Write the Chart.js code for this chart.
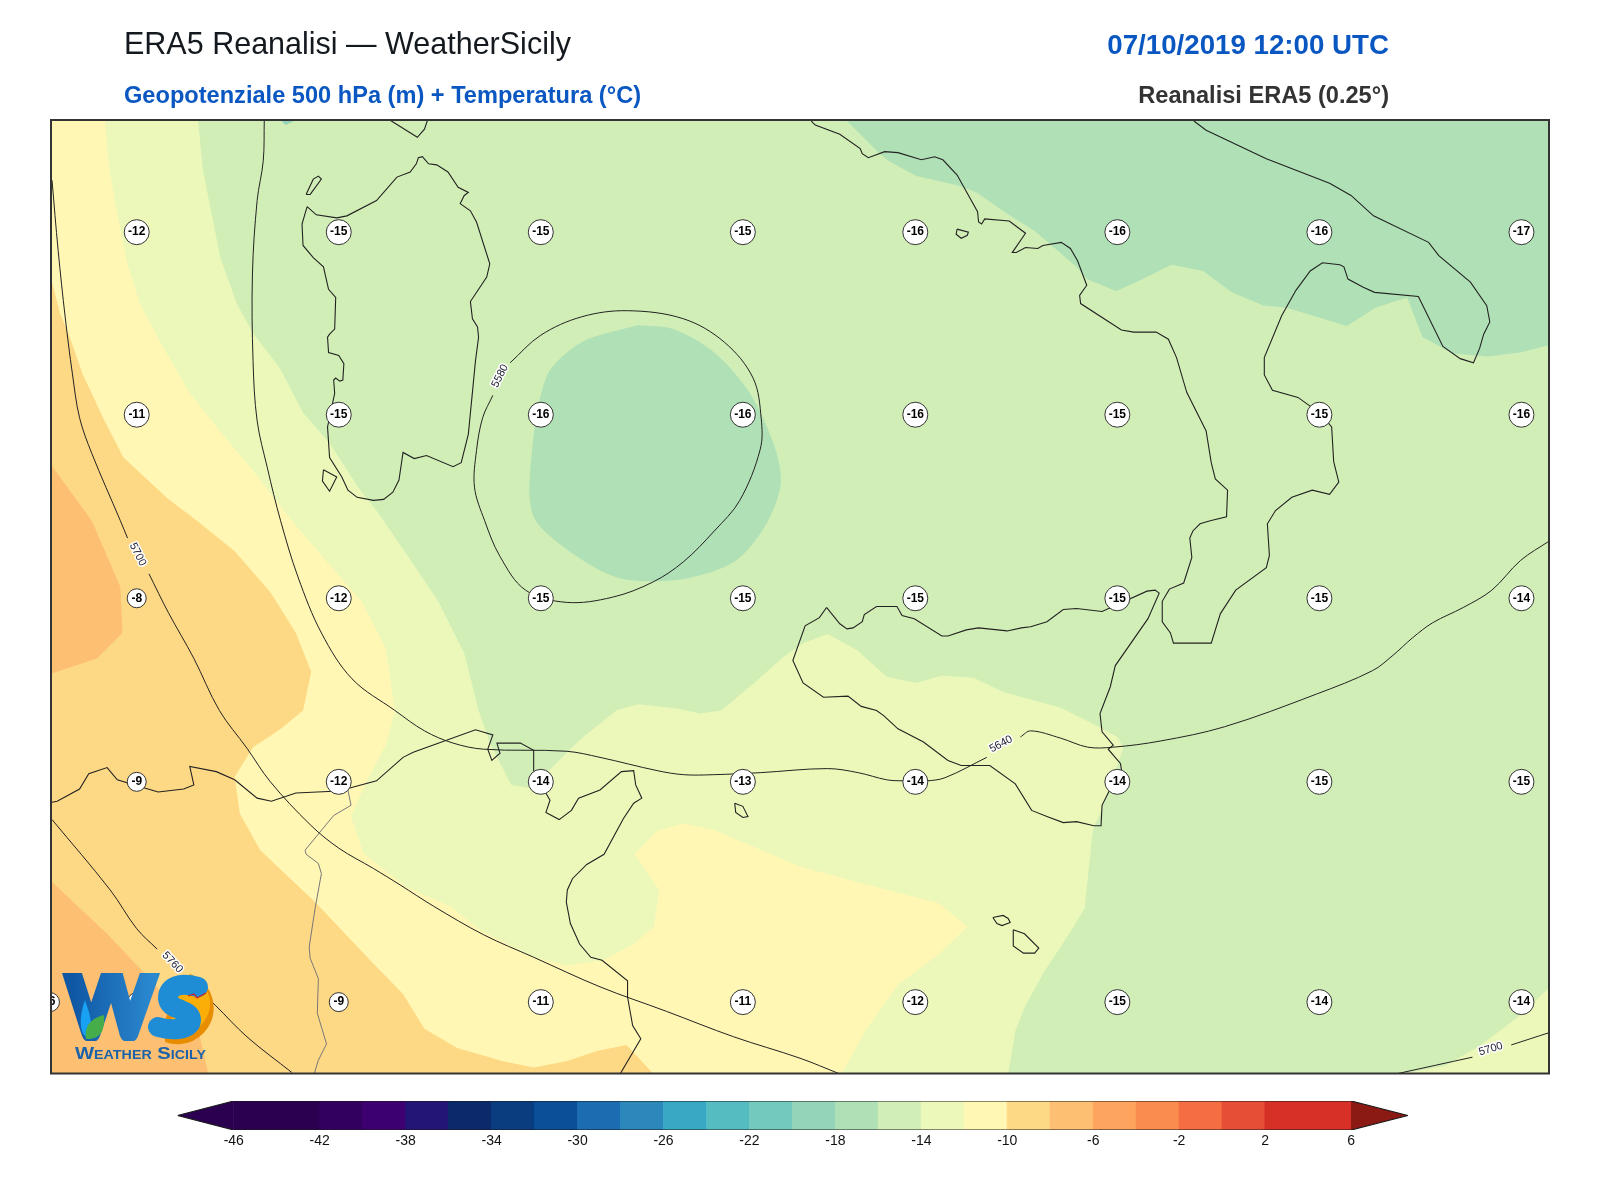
<!DOCTYPE html>
<html>
<head>
<meta charset="utf-8">
<title>ERA5 Reanalisi - WeatherSicily</title>
<script src="https://cdn.jsdelivr.net/npm/chart.js@4"></script>
<style>
  html, body { margin: 0; background: #fff; }
  #page { position: relative; width: 1600px; height: 1200px; overflow: hidden; font-family: "Liberation Sans", Arial, sans-serif; }
  #page canvas { position: absolute; left: 0; }
  .head { position: absolute; white-space: nowrap; line-height: 1; }
  #logo { position: absolute; left: 0; top: 0; }
</style>
</head>
<body>
<div id="page">
  <canvas id="map" width="1600" height="1090" style="top:0"></canvas>
  <canvas id="bar" width="1600" height="70" style="top:1090px"></canvas>
  <div class="head" style="left:124px;top:28px;font-size:30.5px;color:#14191f">ERA5 Reanalisi — WeatherSicily</div>
  <div class="head" style="right:211px;top:31px;font-size:27.7px;font-weight:bold;color:#0a57c2">07/10/2019 12:00 UTC</div>
  <div class="head" style="left:124px;top:84px;font-size:23.6px;font-weight:bold;color:#0a57c2">Geopotenziale 500 hPa (m) + Temperatura (°C)</div>
  <div class="head" style="right:211px;top:84px;font-size:23.6px;font-weight:bold;color:#333">Reanalisi ERA5 (0.25°)</div>
  <svg id="logo" width="1600" height="1200">
    <defs>
      <linearGradient id="wGrad" x1="0" y1="0" x2="1" y2="0">
        <stop offset="0" stop-color="#0f56a3"/><stop offset="1" stop-color="#2a88cf"/>
      </linearGradient>
      <clipPath id="wClip"><rect x="60" y="973" width="102" height="68"/></clipPath>
    </defs>
    <path d="M190,974 A35,35 0 0 1 165,1042 L165,1020 L180,985 Z" fill="#e88c00"/>
    <path d="M172,1000 L194,978 C206,986 211,996 210,1006 C208,1024 192,1037 172,1039 Z" fill="#fcae08"/>
    <g clip-path="url(#wClip)">
      <path d="M71,970 L91,1033 L112,970 L129,1033 L151,970" fill="none" stroke="url(#wGrad)" stroke-width="19" stroke-linejoin="round" stroke-linecap="butt"/>
    </g>
    <path d="M85,1000 C90,1015 94,1025 88,1038 C80,1035 78,1020 85,1000 Z" fill="#18a0f2"/>
    <path d="M86,1039 C84,1025 92,1018 104,1015 C105,1028 102,1040 86,1039 Z" fill="#46ad4a"/>
    <path d="M198,987 C180,982 168,986 168,998 C168,1011 191,1008 191,1020 C191,1030 172,1031 158,1027" fill="none" stroke="#1f8dd6" stroke-width="20" stroke-linecap="round"/>
    <path d="M188,996 L194,994 L197,998 L206,993" fill="none" stroke="#c8202a" stroke-width="1.3"/>
    <text x="75" y="1059" textLength="131" lengthAdjust="spacingAndGlyphs" font-family="Liberation Sans" font-weight="bold" font-size="17" style="font-variant:small-caps" fill="#1a63aa">Weather Sicily</text>
  </svg>
</div>
<script>
// map grid: x runs 50..1518, y runs 117..1052 going south
const mapLimits = { xMin: 50, xMax: 1518, yMin: 117, yMax: 1052 };

// filled temperature bands
const frameBand = [[50,117],[1518,117],[1518,1052],[50,1052]];
const paleBand = [[194,117],[199,167],[216,252],[232,297],[248,326],[274,360],[297,404],[323,434],[353,480],[369,500],[400,545],[430,590],[455,640],[469,696],[480,728],[501,769],[520,772],[542,751],[568,725],[604,696],[625,690],[663,694],[686,699],[707,696],[745,664],[767,644],[787,630],[811,621],[840,637],[869,663],[897,669],[923,662],[954,664],[983,678],[1039,693],[1071,709],[1095,722],[1101,732],[1091,761],[1078,797],[1071,813],[1067,850],[1063,890],[1049,913],[1024,951],[1005,985],[995,1010],[988,1052],[50,1052],[50,117]];
const paleCorner = [[1375,1052],[1415,1045],[1450,1025],[1490,995],[1518,968],[1518,1052]];
const creamBand = [[103,117],[106,157],[113,199],[124,255],[137,297],[160,340],[186,385],[213,419],[248,461],[286,510],[320,550],[355,590],[378,635],[387,696],[379,728],[358,768],[344,800],[356,836],[398,869],[441,888],[470,911],[523,938],[555,946],[591,941],[621,925],[641,908],[646,872],[622,837],[644,814],[670,807],[699,813],[784,849],[850,867],[920,885],[948,908],[920,935],[880,965],[848,1010],[825,1052],[50,1052],[50,117]];
const yellowBand = [[51,276],[59,307],[67,326],[81,366],[101,409],[121,448],[164,488],[193,510],[230,540],[265,580],[290,620],[305,658],[297,696],[274,715],[248,732],[230,761],[235,797],[255,833],[310,885],[359,937],[395,974],[416,1008],[448,1027],[493,1040],[523,1046],[555,1040],[585,1030],[614,1024],[640,1052],[50,1052],[50,276]];
const orangeWest = [[50,455],[90,510],[118,575],[120,620],[95,645],[50,660]];
const orangeSouth = [[51,864],[72,884],[105,915],[139,951],[170,985],[196,1016],[204,1052],[50,1052]];
const coldNorth = [[830,118],[861,149],[872,158],[898,172],[938,181],[957,188],[987,209],[1013,225],[1055,261],[1065,273],[1094,285],[1120,273],[1148,259],[1179,265],[1207,286],[1238,299],[1261,301],[1320,319],[1348,301],[1379,291],[1394,330],[1424,346],[1457,349],[1490,345],[1518,338],[1518,117],[830,117]];
const coldLow = [[625,318],[660,322],[700,345],[735,385],[760,440],[765,475],[750,515],[720,550],[670,567],[610,567],[570,548],[525,510],[519,470],[535,370],[570,335],[625,318]];
const coldSpeck = [[275,117],[280,122],[288,118]];

// coastlines
const sardinia = [[301,202],[310,210],[330,213],[340,211],[369,196],[389,173],[402,168],[408,160],[410,154],[414,153],[420,160],[428,161],[439,168],[449,183],[459,188],[455,191],[451,199],[461,206],[467,217],[480,258],[477,271],[461,295],[463,312],[468,320],[469,330],[466,353],[459,425],[452,453],[444,457],[418,446],[406,449],[395,443],[391,470],[385,482],[376,489],[366,490],[350,487],[341,480],[335,467],[323,448],[321,418],[328,385],[327,372],[329,370],[333,373],[336,372],[337,356],[332,348],[322,345],[321,330],[323,327],[328,322],[329,291],[322,283],[317,261],[307,252],[297,240],[296,219],[301,202]];
const asinara = [[300,190],[307,175],[312,172],[315,175],[304,190],[300,190]];
const antioco = [[317,460],[330,467],[323,481],[316,471],[317,460]];
const corsica = [[382,117],[409,134],[416,126],[419,117]];
const italy = [[795,118],[799,122],[823,131],[843,145],[845,150],[851,154],[867,148],[880,149],[903,156],[916,153],[924,156],[938,171],[958,207],[959,217],[962,219],[965,214],[989,216],[1005,228],[992,247],[996,247],[1005,242],[1017,243],[1022,240],[1040,237],[1049,243],[1056,255],[1065,279],[1058,289],[1059,297],[1099,323],[1111,325],[1133,325],[1145,332],[1153,350],[1163,384],[1182,422],[1187,453],[1191,469],[1203,480],[1202,506],[1186,510],[1176,513],[1169,520],[1166,527],[1168,546],[1160,571],[1146,577],[1139,589],[1139,609],[1147,620],[1150,630],[1187,630],[1196,601],[1211,578],[1241,556],[1244,544],[1242,513],[1250,500],[1266,487],[1286,480],[1303,484],[1312,472],[1307,452],[1305,418],[1300,412],[1290,402],[1272,389],[1247,382],[1239,367],[1239,350],[1256,309],[1270,284],[1284,265],[1296,257],[1313,259],[1317,261],[1321,273],[1336,281],[1347,286],[1390,290],[1414,339],[1431,351],[1444,355],[1450,341],[1454,327],[1460,315],[1457,299],[1441,276],[1410,250],[1400,237],[1346,211],[1324,191],[1303,179],[1241,155],[1182,127],[1170,118]];
const sicily = [[810,595],[823,611],[830,616],[836,615],[845,609],[847,602],[859,594],[879,594],[884,603],[896,606],[923,623],[929,623],[947,617],[959,615],[987,618],[1001,615],[1010,614],[1026,609],[1042,597],[1055,596],[1080,599],[1100,590],[1124,579],[1132,578],[1136,581],[1125,606],[1093,652],[1088,673],[1078,699],[1080,717],[1091,730],[1086,734],[1098,748],[1099,754],[1086,777],[1080,789],[1079,809],[1072,809],[1055,805],[1042,806],[1026,800],[1011,794],[995,768],[970,750],[942,750],[929,745],[905,727],[880,714],[866,701],[859,696],[844,692],[831,682],[807,683],[787,669],[777,647],[789,613],[803,605],[810,595]];
const favignana = [[938,224],[949,227],[948,230],[942,233],[937,229],[938,224]];
const lampedusa = [[720,787],[728,790],[733,800],[728,801],[721,796],[720,787]];
const gozo = [[973,899],[983,897],[988,900],[990,904],[982,907],[977,905],[973,899]];
const malta = [[993,911],[1004,915],[1018,929],[1014,934],[1003,934],[993,927],[993,911]];
const africa = [[51,786],[56,785],[78,773],[87,758],[105,752],[115,764],[135,770],[155,776],[180,773],[190,769],[186,751],[212,756],[230,764],[252,782],[266,785],[290,777],[332,775],[369,765],[395,742],[405,737],[466,715],[483,720],[478,734],[482,745],[490,738],[487,728],[510,728],[523,735],[523,755],[530,768],[539,784],[535,796],[548,803],[560,794],[567,782],[588,774],[609,756],[621,755],[623,769],[629,782],[621,787],[611,802],[592,837],[575,847],[561,861],[556,872],[555,884],[559,905],[568,925],[579,938],[590,941],[615,961],[615,977],[620,1005],[628,1018],[608,1052]];
const border = [[341,774],[344,789],[327,799],[299,833],[300,837],[312,846],[315,856],[309,889],[303,928],[304,939],[312,959],[311,993],[320,1023],[312,1039],[308,1052]];

// geopotential contours, split where their labels sit
const line5700a = [[51,176],[57,245],[64,311],[71,366],[78,409],[90,444],[118,510],[125,527]];
const line5700b = [[146,562],[165,600],[190,645],[215,696],[242,733],[265,766],[304,808],[332,831],[366,851],[392,867],[425,888],[474,916],[523,938],[588,967],[653,991],[719,1016],[784,1037],[822,1052]];
const line5700c = [[1370,1052],[1443,1036]];
const line5700d = [[1481,1024],[1518,1012]];
const line5640a = [[259,117],[258,157],[252,196],[247.4,268],[248,353],[252,412],[262,458],[275,510],[292,565],[315,620],[345,665],[387,696],[416,716],[444,728],[474,734],[555,736],[588,742],[644,755],[670,759],[699,759],[745,757],[811,753],[841,757],[869,764],[885,765],[908,765],[926,762],[967,742]];
const line5640b = [[1000,722],[1010,716],[1039,723],[1066,732],[1091,732],[1137,726],[1200,712],[1290,680],[1345,657],[1365,642],[1384,625],[1404,610],[1434,595],[1462,578],[1490,549],[1518,530]];
const line5580 = [[500,355],[530,328],[570,310],[615,304],[670,312],[710,335],[738,370],[746,410],[745,440],[725,490],[700,520],[670,550],[640,570],[600,585],[555,590],[515,578],[490,545],[475,510],[465,477],[467,441],[473,409],[483,387]];
const line5760a = [[51,803],[108,872],[134,910],[154,930]];
const line5760b = [[183,958],[211,985],[242,1016],[286,1051]];

const contourLabels = ['5700', '5700', '5640', '5580', '5760'];
const contourLabelX = [135, 1461, 981, 490, 169];
const contourLabelY = [543, 1028, 729, 368, 943];
const contourLabelAngle = [63, -17, -28, -63, 47];

// temperature readings
const stationX = [134, 332, 530, 728, 897, 1095, 1293, 1491];
const stationXLast = [49, 134, 332, 530, 728, 897, 1095, 1293, 1491];
const rowY = [227, 406, 586, 766, 982];
const tempsRow1 = [-12, -15, -15, -15, -16, -16, -16, -17];
const tempsRow2 = [-11, -15, -16, -16, -16, -15, -15, -16];
const tempsRow3 = [-8, -12, -15, -15, -15, -15, -15, -14];
const tempsRow4 = [-9, -12, -14, -13, -14, -14, -15, -15];
const tempsRow5 = [-6, -8, -9, -11, -11, -12, -15, -14, -14];

// colour bar
const barEdges = [-46, -42, -40, -38, -36, -34, -32, -30, -28, -26, -24, -22, -20, -18, -16, -14, -12, -10, -8, -6, -4, -2, 0, 2, 6];
const barColors = ['#2b0050', '#32005f', '#3d0070', '#231575', '#0c2a6b', '#0a3d80', '#0a4f98', '#1c6cb1', '#2c88bb', '#39a8c5', '#55bdc1', '#73c9bd', '#94d4b9', '#b0e1b6', '#d2eeb7', '#ecf8b9', '#fff7b3', '#fed985', '#fdbf72', '#fda55e', '#fa8c4e', '#f46d43', '#e64f35', '#d73027'];
const barTicks = [-46, -42, -38, -34, -30, -26, -22, -18, -14, -10, -6, -2, 2, 6];
const barTipLow = -48.62;
const barTipHigh = 8.65;

const toPoints = pts => pts.map(p => ({ x: p[0], y: p[1] }));

function band(pts, color, tension) {
    return { data: toPoints(pts), showLine: true, fill: 'shape', backgroundColor: color, borderWidth: 0, pointRadius: 0, tension: tension || 0 };
}

function stroke(pts, color, width, tension) {
    return { data: toPoints(pts), showLine: true, fill: false, borderColor: color, borderWidth: width, pointRadius: 0, tension: tension || 0 };
}

function stations(xs, y, temps) {
    return {
        data: xs.map((x, i) => ({ x: x, y: y, t: temps[i] })),
        showLine: false,
        backgroundColor: '#fff',
        borderColor: '#333',
        borderWidth: 1,
        pointRadius: ctx => (String(ctx.raw.t).length > 2 ? 12.5 : 9.5)
    };
}

const coastColor = '#222';
const coasts = [sardinia, asinara, antioco, corsica, italy, sicily, favignana, lampedusa, gozo, malta, africa];
const contours = [line5700a, line5700b, line5700c, line5700d, line5640a, line5640b, line5580, line5760a, line5760b];

const mapSets = [
    band(frameBand, '#d2eeb7'),
    band(paleBand, '#ecf8b9'),
    band(paleCorner, '#ecf8b9'),
    band(creamBand, '#fff7b3'),
    band(yellowBand, '#fed985'),
    band(orangeWest, '#fdbf72'),
    band(orangeSouth, '#fdbf72'),
    band(coldNorth, '#b0e1b6'),
    band(coldLow, '#b0e1b6', 0.3),
    band(coldSpeck, '#94d4b9'),
    stroke(border, '#777', 1)
].concat(
    coasts.map(c => stroke(c, coastColor, 1.1)),
    contours.map(c => stroke(c, coastColor, 1, 0.35)),
    [
        stations(stationX, rowY[0], tempsRow1),
        stations(stationX, rowY[1], tempsRow2),
        stations(stationX, rowY[2], tempsRow3),
        stations(stationX, rowY[3], tempsRow4),
        stations(stationXLast, rowY[4], tempsRow5)
    ]
);
// first in the list goes underneath
mapSets.forEach((d, i) => { d.order = mapSets.length - i; });

const mapText = {
    id: 'mapText',
    afterDatasetsDraw(chart) {
        const { ctx, chartArea: a, scales } = chart;
        ctx.save();
        ctx.beginPath();
        ctx.rect(a.left, a.top, a.width, a.height);
        ctx.clip();
        ctx.textAlign = 'center';
        ctx.textBaseline = 'middle';

        // contour labels with a white halo
        ctx.font = '11px "Liberation Sans"';
        ctx.lineJoin = 'round';
        contourLabels.forEach((txt, i) => {
            ctx.save();
            ctx.translate(scales.x.getPixelForValue(contourLabelX[i]), scales.y.getPixelForValue(contourLabelY[i]));
            ctx.rotate(contourLabelAngle[i] * Math.PI / 180);
            ctx.strokeStyle = '#fff';
            ctx.lineWidth = 3;
            ctx.strokeText(txt, 0, 0);
            ctx.fillStyle = '#223';
            ctx.fillText(txt, 0, 0);
            ctx.restore();
        });

        // station temperatures
        ctx.font = 'bold 12px "Liberation Sans"';
        ctx.fillStyle = '#000';
        chart.data.datasets.forEach(d => {
            d.data.forEach(p => {
                if (p.t !== undefined) {
                    ctx.fillText(p.t, scales.x.getPixelForValue(p.x), scales.y.getPixelForValue(p.y));
                }
            });
        });
        ctx.restore();

        // frame
        ctx.save();
        ctx.strokeStyle = '#333';
        ctx.lineWidth = 2;
        ctx.strokeRect(a.left, a.top, a.width, a.height);
        ctx.restore();
    }
};

new Chart(document.getElementById('map'), {
    type: 'scatter',
    data: { datasets: mapSets },
    options: {
        responsive: false,
        animation: false,
        events: [],
        devicePixelRatio: 1,
        layout: { padding: { left: 51, right: 51, top: 120, bottom: 16.5 } },
        plugins: { legend: { display: false }, tooltip: { enabled: false }, title: { display: false } },
        scales: {
            x: { type: 'linear', display: false, min: mapLimits.xMin, max: mapLimits.xMax },
            y: { type: 'linear', display: false, reverse: true, min: mapLimits.yMin, max: mapLimits.yMax }
        }
    },
    plugins: [mapText]
});

// colour bar: one filled box per level, a triangle at each end, then the outline
const barSets = barColors.map((c, i) => {
    const d = band([[barEdges[i], 0], [barEdges[i + 1], 0], [barEdges[i + 1], 1], [barEdges[i], 1], [barEdges[i], 0]], c);
    d.borderColor = c;
    d.borderWidth = 1;
    return d;
});
barSets.push(band([[barTipLow, 0.5], [barEdges[0], 0], [barEdges[0], 1]], '#2b0050'));
barSets.push(band([[barEdges[barEdges.length - 1], 0], [barTipHigh, 0.5], [barEdges[barEdges.length - 1], 1]], '#8b1a14'));
barSets.push(stroke([[barTipLow, 0.5], [barEdges[0], 0], [barEdges[barEdges.length - 1], 0], [barTipHigh, 0.5], [barEdges[barEdges.length - 1], 1], [barEdges[0], 1], [barTipLow, 0.5]], '#1a1a1a', 1.2));
barSets.forEach((d, i) => { d.order = barSets.length - i; });

new Chart(document.getElementById('bar'), {
    type: 'scatter',
    data: { datasets: barSets },
    options: {
        responsive: false,
        animation: false,
        events: [],
        devicePixelRatio: 1,
        layout: { padding: { left: 177.5, right: 192, top: 11, bottom: 0 } },
        plugins: { legend: { display: false }, tooltip: { enabled: false } },
        scales: {
            x: {
                type: 'linear',
                min: barTipLow,
                max: barTipHigh,
                grid: { display: false, drawTicks: false },
                border: { display: false },
                afterBuildTicks: scale => { scale.ticks = barTicks.map(v => ({ value: v })); },
                afterFit: scale => { scale.height = 30; },
                ticks: { autoSkip: false, maxRotation: 0, color: '#111', padding: 3, font: { family: 'Liberation Sans', size: 14 } }
            },
            y: { type: 'linear', display: false, min: 0, max: 1, reverse: true }
        }
    }
});
</script>
</body>
</html>
